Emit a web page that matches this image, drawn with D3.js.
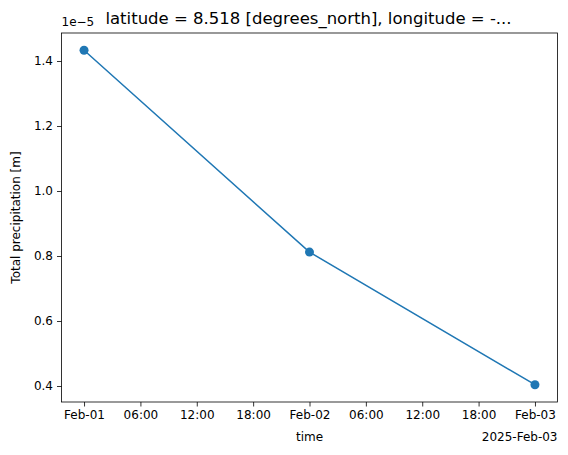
<!DOCTYPE html>
<html><head><meta charset="utf-8">
<script src="https://cdn.jsdelivr.net/npm/d3@7"></script>
<style>body{margin:0;background:#fff}text{font-family:"DejaVu Sans",sans-serif;}</style>
</head><body><svg id="c" width="568" height="455"></svg>
<script>
const times=["2025-02-01T00:00","2025-02-02T00:00","2025-02-03T00:00"];
const precip=[1.433e-5,0.812e-5,0.404e-5];
const yTicks=[0.4,0.6,0.8,1.0,1.2,1.4];
const xTickLabels=["Feb-01","06:00","12:00","18:00","Feb-02","06:00","12:00","18:00","Feb-03"];
const title="latitude = 8.518 [degrees_north], longitude = -...";

const svg=d3.select("#c");
const L=61.5,R=557.5,T=33,B=402;
const t0=new Date(times[0]),t1=new Date(times[2]);
const span=t1-t0;
const x=d3.scaleTime().domain([new Date(+t0-span*0.05),new Date(+t1+span*0.05)]).range([L,R]);
const y=d3.scaleLinear().range([B,T]);
y.domain([0.4-(B-386)/325,1.4+(61-T)/325]);
const tickDates=d3.range(9).map(i=>new Date(+t0+i*6*3600e3));
const xa=svg.append("g").attr("transform",`translate(0,${B})`).call(d3.axisBottom(x).tickValues(tickDates).tickFormat((d,i)=>xTickLabels[i]).tickSize(4.5).tickPadding(4));
const ya=svg.append("g").attr("transform",`translate(${L},0)`).call(d3.axisLeft(y).tickValues(yTicks).tickFormat(d3.format(".1f")).tickSize(4.5).tickPadding(4));
[xa,ya].forEach(a=>{a.selectAll("text").attr("font-size",12).attr("fill","#000");a.select(".domain").remove();a.selectAll("line").attr("stroke","#000").attr("stroke-width",0.8);});
svg.append("rect").attr("x",L).attr("y",T).attr("width",R-L).attr("height",B-T).attr("fill","none").attr("stroke","#000").attr("stroke-width",0.8);
const data=times.map((t,i)=>({t:new Date(t),v:precip[i]*1e5}));
svg.append("path").datum(data).attr("fill","none").attr("stroke","#1f77b4").attr("stroke-width",1.5)
 .attr("d",d3.line().x(d=>x(d.t)).y(d=>y(d.v)));
svg.selectAll("circle").data(data).join("circle").attr("cx",d=>x(d.t)).attr("cy",d=>y(d.v)).attr("r",4.5).attr("fill","#1f77b4");
svg.append("text").attr("x",308.5).attr("y",24).attr("text-anchor","middle").attr("font-size",16.5).text(title);
svg.append("text").attr("x",L).attr("y",26).attr("font-size",12).text("1e\u22125");
svg.append("text").attr("x",(L+R)/2).attr("y",441).attr("text-anchor","middle").attr("font-size",12).text("time");
svg.append("text").attr("x",R).attr("y",441).attr("text-anchor","end").attr("font-size",12).text("2025-Feb-03");
svg.append("text").attr("transform",`translate(20,${(T+B)/2}) rotate(-90)`).attr("text-anchor","middle").attr("font-size",12).text("Total precipitation [m]");
</script></body></html>
